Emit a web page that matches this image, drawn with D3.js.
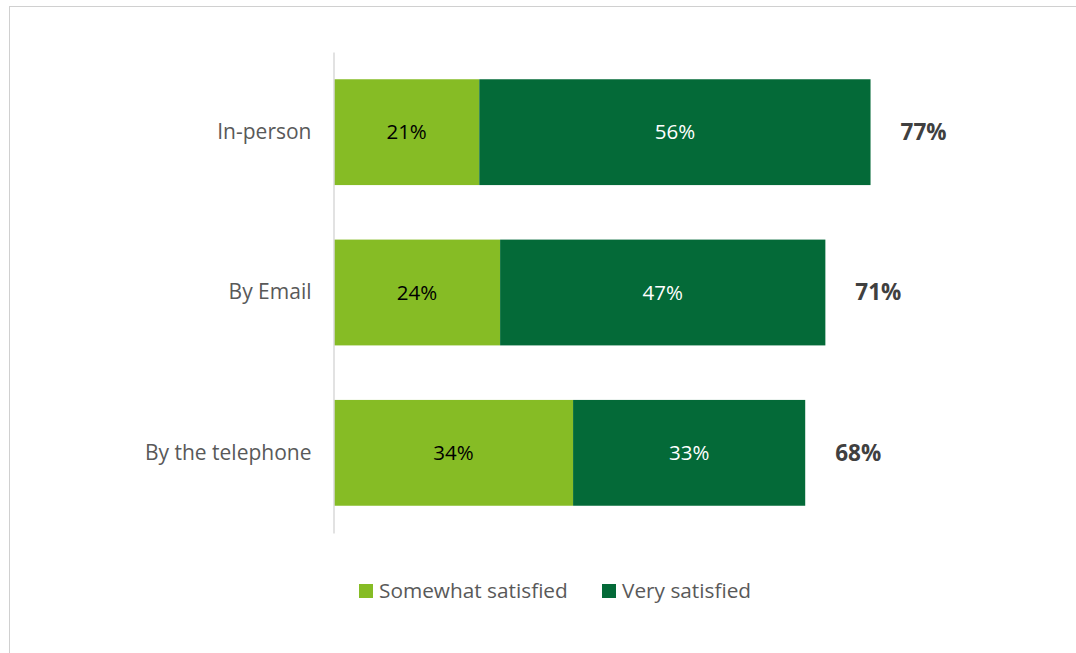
<!DOCTYPE html>
<html>
<head>
<meta charset="utf-8">
<script src="https://cdn.jsdelivr.net/npm/d3@7"></script>
<style>
  body { margin: 0; background: #fff; }
  svg { display: block; font-family: "Open Sans", "Noto Sans", sans-serif; }
</style>
</head>
<body>
<svg id="chart" width="1076" height="653"></svg>
<script>
// categories, top to bottom
var categories = ['In-person', 'By Email', 'By the telephone'];
// series values (percent)
var somewhat = [20.9, 23.9, 34.4];
var very = [56.3, 46.8, 33.4];
var seriesNames = ['Somewhat satisfied', 'Very satisfied'];
var colors = ['#86bc25', '#046a38'];
var labelColors = ['#000000', '#ffffff'];

var svg = d3.select('#chart');

// outer frame
svg.append('rect')
  .attr('x', 9.5).attr('y', 6.5)
  .attr('width', 1100).attr('height', 700)
  .attr('fill', 'none')
  .attr('stroke', '#d0d0d0');

var margin = {left: 334, top: 52, bottom: 533};

var x = d3.scaleLinear().domain([0, 100]).range([margin.left, margin.left + 695]);
var y = d3.scaleBand().domain(categories)
  .range([margin.top, margin.bottom])
  .paddingInner(0.34).paddingOuter(0.17);

// stacked data
var rows = categories.map(function(c, i) {
  return {cat: c, values: [somewhat[i], very[i]]};
});

var g = svg.append('g');

rows.forEach(function(r) {
  var start = 0;
  r.values.forEach(function(v, j) {
    g.append('rect')
      .attr('x', x(start))
      .attr('y', y(r.cat))
      .attr('width', x(start + v) - x(start))
      .attr('height', y.bandwidth())
      .attr('fill', colors[j]);

    g.append('text')
      .attr('x', (x(start) + x(start + v)) / 2)
      .attr('y', y(r.cat) + y.bandwidth() / 2)
      .attr('dy', '0.35em')
      .attr('text-anchor', 'middle')
      .attr('font-size', 20.5)
      .attr('fill', labelColors[j])
      .text(Math.round(v) + '%');
    start += v;
  });

  // total
  g.append('text')
    .attr('x', x(start) + 30)
    .attr('y', y(r.cat) + y.bandwidth() / 2)
    .attr('dy', '0.35em')
    .attr('font-size', 22.5)
    .attr('font-weight', 'bold')
    .attr('fill', '#404040')
    .text(Math.round(start) + '%');
});

// category axis
var axis = svg.append('g')
  .attr('transform', 'translate(' + (margin.left - 0.5) + ',0)')
  .call(d3.axisLeft(y).tickSize(0).tickPadding(22));
axis.select('.domain').attr('stroke', '#d9d9d9').attr('stroke-width', 1.5);
axis.selectAll('text')
  .attr('font-size', 21)
  .attr('fill', '#595959')
  .attr('font-family', '"Open Sans", "Noto Sans", sans-serif');

// legend
var legend = svg.append('g').attr('transform', 'translate(359,591)');
var lx = [0, 243];
seriesNames.forEach(function(s, i) {
  var item = legend.append('g').attr('transform', 'translate(' + lx[i] + ',0)');
  item.append('rect')
    .attr('x', 0).attr('y', -7)
    .attr('width', 14).attr('height', 14)
    .attr('fill', colors[i]);
  item.append('text')
    .attr('x', 20).attr('y', 0)
    .attr('dy', '0.35em')
    .attr('font-size', 20.8)
    .attr('fill', '#595959')
    .text(s);
});
</script>
</body>
</html>
